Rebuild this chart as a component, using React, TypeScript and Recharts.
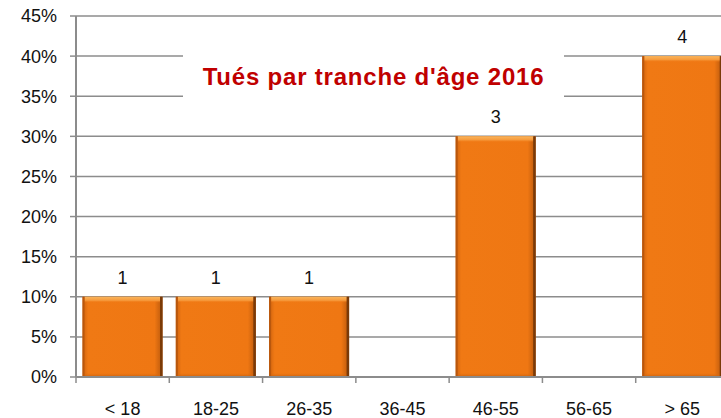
import { BarChart, Bar, XAxis, YAxis, CartesianGrid, LabelList } from "recharts";

const ageGroups = ["< 18", "18-25", "26-35", "36-45", "46-55", "56-65", "> 65"];
const sharePct = [10, 10, 10, 0, 30, 0, 40];
const killed = [1, 1, 1, 0, 3, 0, 4];
const yTicks = [0, 5, 10, 15, 20, 25, 30, 35, 40, 45];

const data = ageGroups.map((age, i) => ({ age, pct: sharePct[i], count: killed[i] }));

const FONT = "'Liberation Sans', Arial, sans-serif";
const GRID = "#8c8c8c";
const LABEL_GAP = 25;

// category label plus the Excel-style tick mark on the category boundary
const AgeTick = (props: any) => {
  const { x, y, payload, index, visibleTicksCount } = props;
  const half = payload?.offset || 0;
  const axisY = y - LABEL_GAP;
  return (
    <g>
      <line x1={x - half} x2={x - half} y1={axisY} y2={axisY + 6} stroke={GRID} strokeWidth={1.5} />
      {index === visibleTicksCount - 1 && (
        <line x1={x + half} x2={x + half} y1={axisY} y2={axisY + 6} stroke={GRID} strokeWidth={1.5} />
      )}
      <text x={x} y={y} dy="0.71em" textAnchor="middle" fontSize={18} fill="#111" fontFamily={FONT}>
        {payload.value}
      </text>
    </g>
  );
};

// orange bar with a bevelled look like the Excel original
const BevelBar = (props: any) => {
  const { x, y, width, height } = props;
  if (!height || height <= 0) return null;
  return (
    <g>
      <rect x={x} y={y} width={width} height={height} fill="url(#barBody)" />
      <rect x={x + 2} y={y} width={width - 4} height={6} fill="url(#barTop)" />
      <rect x={x + 2} y={y + height - 4} width={width - 4} height={4} fill="url(#barBottom)" />
      <rect x={x} y={y} width={2} height={height} fill="#b9570d" />
      <rect x={x + width - 2.5} y={y} width={2.5} height={height} fill="#7a3a08" />
    </g>
  );
};

export default function App() {
  return (
    <div
      style={{
        position: "absolute",
        left: 0,
        top: 0,
        width: 721,
        height: 418,
        overflow: "hidden",
        background: "#fff",
        fontFamily: FONT,
      }}
    >
      <BarChart
        width={735}
        height={418}
        data={data}
        margin={{ top: 16, right: 6, bottom: 0, left: 0 }}
        barCategoryGap="7%"
      >
        <defs>
          <linearGradient id="barBody" x1="0" y1="0" x2="1" y2="0">
            <stop offset="0%" stopColor="#cf630f" />
            <stop offset="7%" stopColor="#f07914" />
            <stop offset="90%" stopColor="#ef7713" />
            <stop offset="100%" stopColor="#b9580c" />
          </linearGradient>
          <linearGradient id="barTop" x1="0" y1="0" x2="0" y2="1">
            <stop offset="0%" stopColor="#fab55c" />
            <stop offset="60%" stopColor="#f69a3c" />
            <stop offset="100%" stopColor="#f07914" stopOpacity={0} />
          </linearGradient>
          <linearGradient id="barBottom" x1="0" y1="0" x2="0" y2="1">
            <stop offset="0%" stopColor="#e06e10" stopOpacity={0} />
            <stop offset="100%" stopColor="#c9600e" />
          </linearGradient>
        </defs>
        <CartesianGrid vertical={false} stroke={GRID} strokeWidth={1.5} />
        <XAxis
          dataKey="age"
          interval={0}
          axisLine={{ stroke: GRID, strokeWidth: 2 }}
          tickLine={false}
          tickSize={0}
          tickMargin={LABEL_GAP}
          height={41}
          tick={<AgeTick />}
        />
        <YAxis
          domain={[0, 45]}
          ticks={yTicks}
          width={76}
          tickSize={6}
          tickMargin={13}
          tickFormatter={(v: number) => `${v}%`}
          axisLine={{ stroke: GRID, strokeWidth: 2 }}
          tickLine={{ stroke: GRID, strokeWidth: 1.5 }}
          tick={{ fontSize: 18, fill: "#111", fontFamily: FONT }}
        />
        <Bar dataKey="pct" shape={<BevelBar />} isAnimationActive={false}>
          <LabelList
            dataKey="count"
            position="top"
            offset={13}
            formatter={(v: any) => (v ? v : "")}
            style={{ fontSize: 18, fill: "#111", fontFamily: FONT }}
          />
        </Bar>
      </BarChart>
      <div
        style={{
          position: "absolute",
          left: 183,
          top: 50,
          width: 381,
          height: 53,
          background: "#fff",
          display: "flex",
          alignItems: "center",
          justifyContent: "center",
          color: "#c00000",
          fontWeight: "bold",
          fontSize: 24,
          letterSpacing: 0.8,
          whiteSpace: "nowrap",
        }}
      >
        Tués par tranche d'âge 2016
      </div>
    </div>
  );
}
